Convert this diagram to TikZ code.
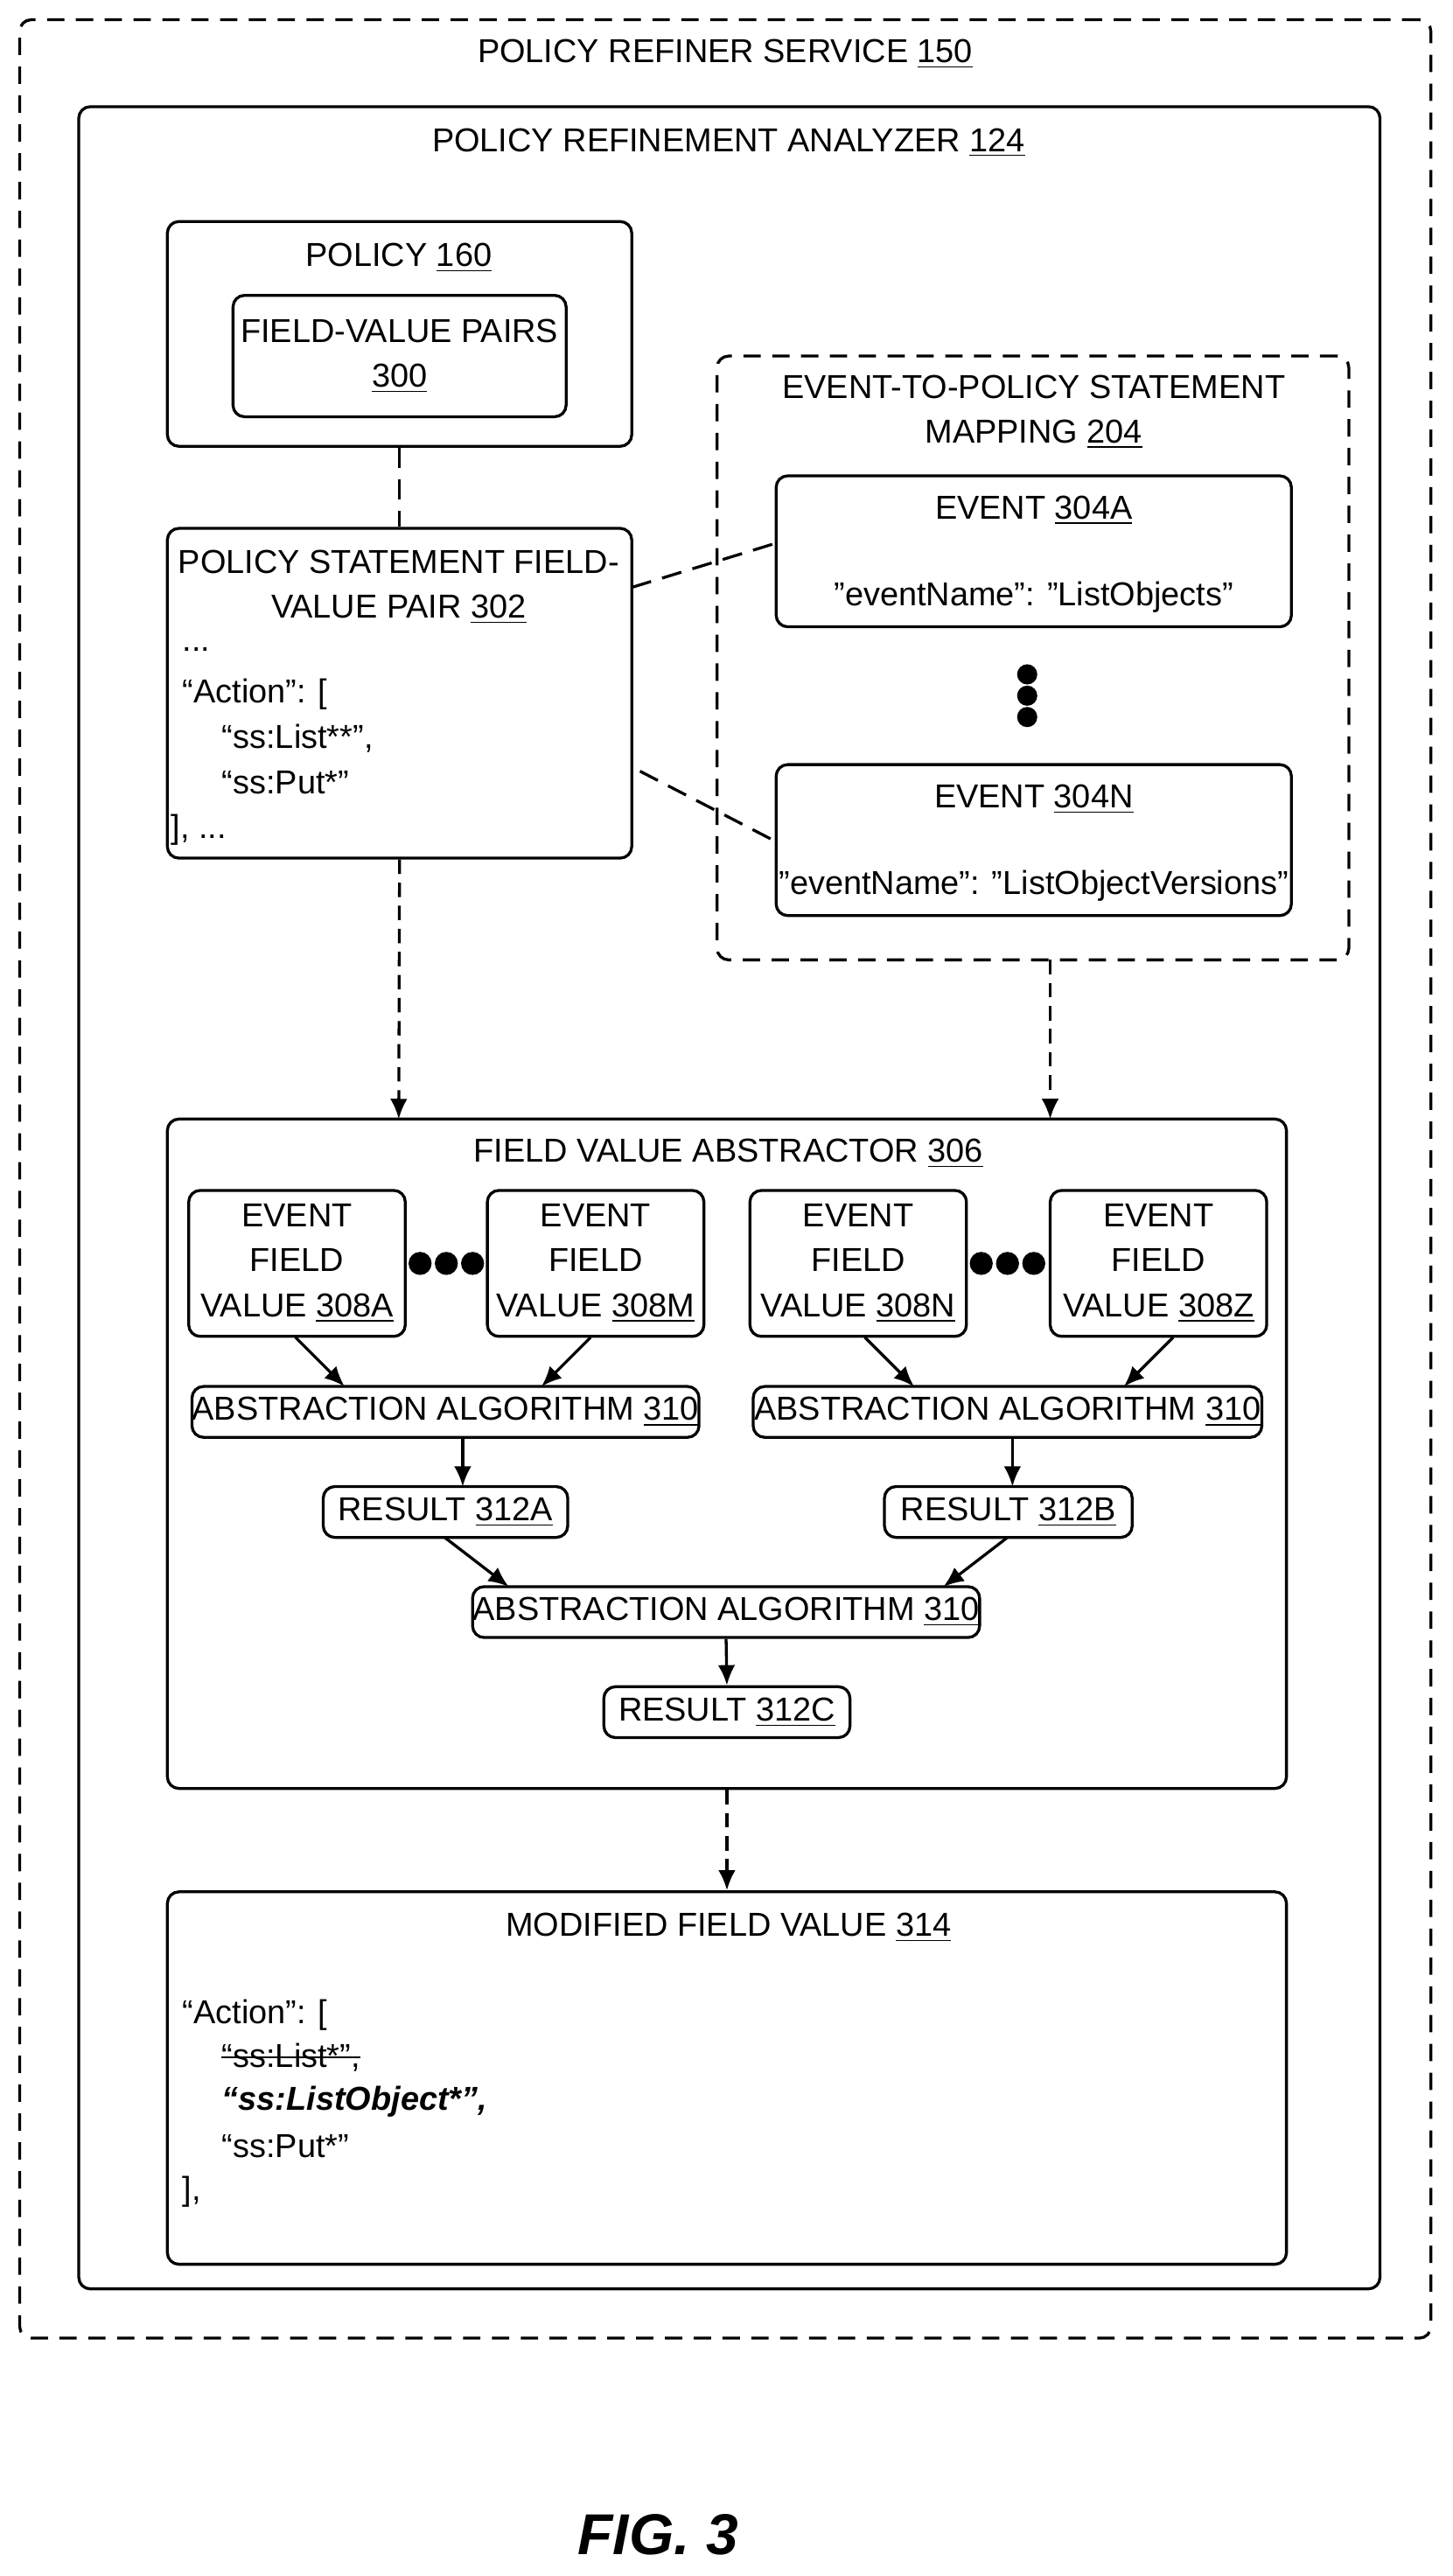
\documentclass[tikz,border=0pt]{standalone}
\usepackage{fontspec}
\setmainfont{Liberation Sans}
\usetikzlibrary{arrows.meta,fit}

\tikzset{
  box/.style={draw,rounded corners=4pt,line width=1pt,inner sep=0pt},
  dbox/.style={box,dash pattern=on 6pt off 4pt},
  txt/.style={inner sep=0pt,align=center,font=\fontsize{11.5}{14.5}\selectfont},
  ltxt/.style={inner sep=0pt,anchor=west,font=\fontsize{11.5}{14.5}\selectfont},
  arr/.style={-{Latex[length=7pt,width=6pt]},line width=1pt},
  darr/.style={arr,dash pattern=on 5pt off 3pt},
  dln/.style={line width=1pt,dash pattern=on 7pt off 4pt},
  bigdot/.style={circle,fill,inner sep=0pt,minimum size=7pt}
}

\begin{document}
\begin{tikzpicture}[x=0.02cm,y=-0.02cm]
  \useasboundingbox (0,0) rectangle (885,1570);
  % outer frames
  \node[dbox,fit={(12,12)(872,1425)}] (RS) {};
  \node[txt] (RSt) at (442,33) {POLICY REFINER SERVICE \underline{150}};
  \node[box,fit={(48,65)(841,1395)}] (RA) {};
  \node[txt] (RAt) at (444,87) {POLICY REFINEMENT ANALYZER \underline{124}};

  % policy
  \node[box,fit={(102,135)(385,272)}] (PO) {};
  \node[txt] (POt) at (243,157) {POLICY \underline{160}};
  \node[box,fit={(142,180)(345,254)}] (FV) {};
  \node[txt] at (FV) {FIELD-VALUE PAIRS\\[1pt]\underline{300}};

  % policy statement
  \node[box,fit={(102,322)(385,523)}] (PS) {};
  \node[txt] (PSt) at (243,358) {POLICY STATEMENT FIELD-\\[1pt]VALUE PAIR \underline{302}};
  \node[ltxt] (PS1) at (111,396) {...};
  \node[ltxt] (PS2) at (111,423) {“Action”: [};
  \node[ltxt] (PS3) at (135,450) {“ss:List**”,};
  \node[ltxt] (PS4) at (135,477) {“ss:Put*”};
  \node[ltxt] (PS5) at (104,506) {], ...};

  % mapping
  \node[dbox,fit={(437,217)(822,585)}] (MP) {};
  \node[txt] (MPt) at (630,251) {EVENT-TO-POLICY STATEMENT\\[1pt]MAPPING \underline{204}};
  \node[box,fit={(473,290)(787,382)}] (EA) {};
  \node[txt] (EAt) at (630,311) {EVENT \underline{304A}};
  \node[txt] (EAv) at (630,364) {"eventName": "ListObjects"};
  \node[bigdot] (d1) at (626,411) {};
  \node[bigdot] (d2) at (626,424) {};
  \node[bigdot] (d3) at (626,437) {};
  \node[box,fit={(473,466)(787,558)}] (EN) {};
  \node[txt] (ENt) at (630,487) {EVENT \underline{304N}};
  \node[txt] (ENv) at (630,540) {"eventName": "ListObjectVersions"};

  \draw[dln] (PO.south) -- (PS.north);
  \draw[dln] (385,358) -- (473,331);
  \draw[dln] (390,470) -- (473,513);

  % abstractor
  \node[box,fit={(102,682)(784,1090)}] (FA) {};
  \node[txt] (FAt) at (444,703) {FIELD VALUE ABSTRACTOR \underline{306}};
  \draw[darr] (PS.south) -- (243,682);
  \draw[darr] (640,585) -- (640,682);

  \foreach \n/\x/\l in {a/181/308A,m/363/308M,n/523/308N,z/706/308Z}{
    \node[box,minimum width=2.64cm,minimum height=1.78cm] (EV\n) at (\x,770) {};
    \node[txt] at (EV\n) {EVENT\\[1pt]FIELD\\[1pt]VALUE \underline{\l}};
  }
  \foreach \x/\n in {256/a,272/b,288/c,598/d,614/e,630/f}
    \node[bigdot,minimum size=8pt] (h\n) at (\x,770) {};

  \node[box,fit={(117,845)(426,876)}] (AL1) {};
  \node[txt] at (AL1) {ABSTRACTION ALGORITHM \underline{310}};
  \node[box,fit={(459,845)(769,876)}] (AL2) {};
  \node[txt] at (AL2) {ABSTRACTION ALGORITHM \underline{310}};
  \node[box,fit={(197,906)(346,937)}] (RA1) {};
  \node[txt] at (RA1) {RESULT \underline{312A}};
  \node[box,fit={(539,906)(690,937)}] (RB1) {};
  \node[txt] at (RB1) {RESULT \underline{312B}};
  \node[box,fit={(288,967)(597,998)}] (AL3) {};
  \node[txt] at (AL3) {ABSTRACTION ALGORITHM \underline{310}};
  \node[box,fit={(368,1028)(518,1059)}] (RC1) {};
  \node[txt] at (RC1) {RESULT \underline{312C}};

  \draw[arr] (180,815) -- (210,845);
  \draw[arr] (360,815) -- (330,845);
  \draw[arr] (527,815) -- (557,845);
  \draw[arr] (715,815) -- (685,845);
  \draw[arr] (282,876) -- (282,906);
  \draw[arr] (617,876) -- (617,906);
  \draw[arr] (271,937) -- (310,967);
  \draw[arr] (614,937) -- (575,967);
  \draw[arr] (AL3.south) -- (RC1.north);

  % modified field value
  \node[box,fit={(102,1153)(784,1380)}] (MF) {};
  \node[txt] (MFt) at (444,1175) {MODIFIED FIELD VALUE \underline{314}};
  \draw[darr] (FA.south) -- (MF.north);
  \node[ltxt] (MF1) at (111,1228) {“Action”: [};
  \node[ltxt] (MF2) at (135,1254) {“ss:List*”,};
  \draw[line width=0.7pt] (MF2.west) -- (MF2.east);
  \node[ltxt] (MF3) at (135,1281) {\textbf{\textit{“ss:ListObject*”,}}};
  \node[ltxt] (MF4) at (135,1308) {“ss:Put*”};
  \node[ltxt] (MF5) at (111,1336) {],};

  \node[inner sep=0pt,font=\fontsize{20}{24}\bfseries\itshape] (FIG) at (401,1545) {FIG. 3};
\end{tikzpicture}
\end{document}
